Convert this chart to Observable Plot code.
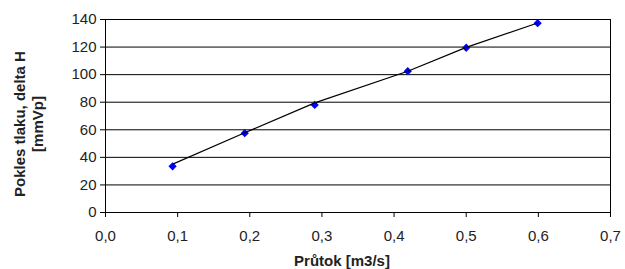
<!DOCTYPE html>
<html><head><meta charset="utf-8">
<script src="https://cdn.jsdelivr.net/npm/d3@7"></script>
<script src="https://cdn.jsdelivr.net/npm/@observablehq/plot@0.6"></script>
<style>body{margin:0;background:#fff} svg{display:block}</style>
</head><body><div id="chart"></div>
<script>
const flow = [0.093, 0.193, 0.29, 0.419, 0.5, 0.599];
const pressureDrop = [33.5, 57.5, 78, 102.5, 119.5, 137.3];
const trendFlow = [0.094, 0.193, 0.29, 0.419, 0.5, 0.598];
const trendDrop = [35.3, 57.8, 79.5, 102.5, 119.8, 137.3];
const xTicks = [0, 0.1, 0.2, 0.3, 0.4, 0.5, 0.6, 0.7];
const xTickLabels = ["0,0", "0,1", "0,2", "0,3", "0,4", "0,5", "0,6", "0,7"];
const yTicks = [0, 20, 40, 60, 80, 100, 120, 140];
const xLabel = "Průtok [m3/s]";
const yLabel = ["Pokles tlaku, delta H", "[mmVp]"];

const points = flow.map((x, i) => ({x, y: pressureDrop[i]}));
const trend = trendFlow.map((x, i) => ({x, y: trendDrop[i]}));

const chart = Plot.plot({
  width: 625, height: 269,
  marginTop: 19, marginRight: 15, marginBottom: 57, marginLeft: 105,
  style: {fontFamily: "'Liberation Sans', Arial, sans-serif", fontSize: "15px", color: "#222", background: "#fff"},
  x: {domain: [0, 0.7]},
  y: {domain: [0, 140]},
  marks: [
    Plot.gridY(yTicks, {stroke: "#000", strokeOpacity: 1}),
    Plot.ruleX([0.7], {stroke: "#000"}),
    Plot.axisY(yTicks, {tickSize: 5, tickPadding: 4, label: null, stroke: "#000"}),
    Plot.axisX(xTicks, {tickSize: 5, tickPadding: 13, label: null, stroke: "#000",
      tickFormat: d => xTickLabels[xTicks.indexOf(d)]}),
    Plot.ruleX([0], {stroke: "#000"}),
    Plot.dot(points, {x: "x", y: "y", symbol: "square", r: 3.3, rotate: 45, fill: "#0000ff"}),
    Plot.line(trend, {x: "x", y: "y", stroke: "#000", strokeWidth: 1.2}),
    Plot.text([xLabel], {frameAnchor: "bottom", dx: -16, dy: 49, fontWeight: "bold", lineAnchor: "middle", fontSize: 15}),
    Plot.text([yLabel.join("\n")], {frameAnchor: "left", dx: -77, dy: 8, rotate: -90, textAnchor: "middle", fontWeight: "bold", lineAnchor: "middle", lineHeight: 1.2, fontSize: 15})
  ]
});
document.getElementById("chart").append(chart);
</script>
</body></html>
